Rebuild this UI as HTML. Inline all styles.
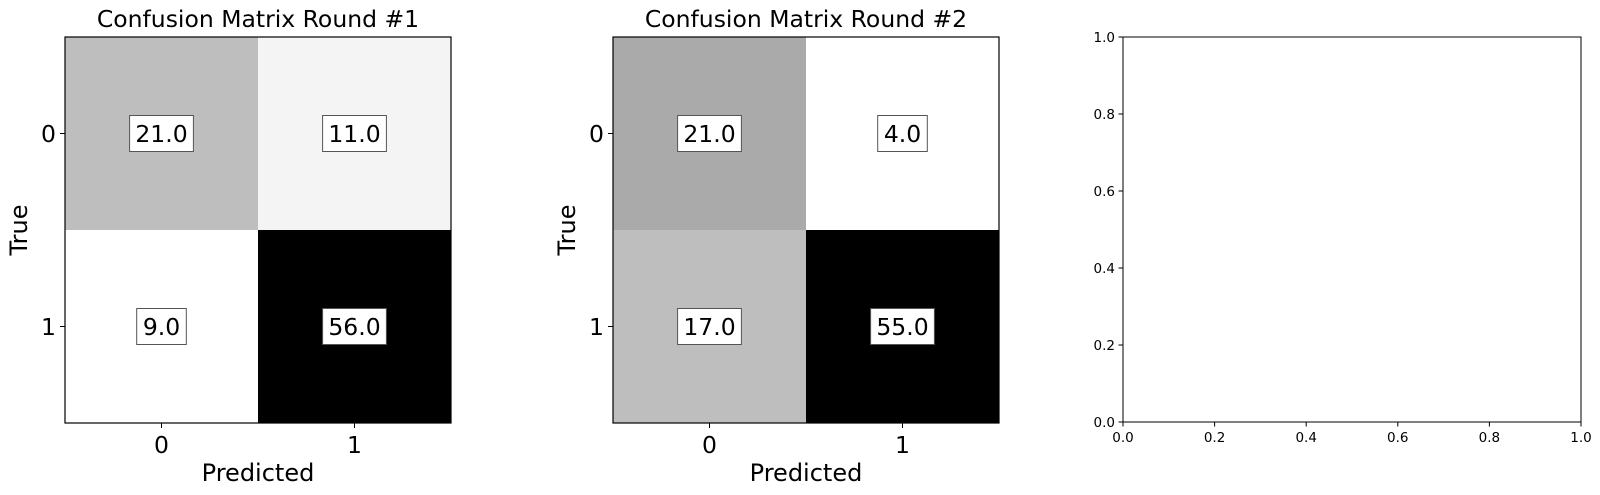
<!DOCTYPE html>
<html><head><meta charset="utf-8">
<style>
html,body{margin:0;padding:0;background:#fff;}
svg{display:block;font-family:"DejaVu Sans","Liberation Sans",sans-serif;}
</style></head>
<body>
<svg id="fig" width="1600" height="495" viewBox="0 0 1600 495" xmlns="http://www.w3.org/2000/svg"></svg>
<script>
const titles = ["Confusion Matrix Round #1", "Confusion Matrix Round #2"];
const classLabels = ["0", "1"];
const matrix1 = [[21, 11], [9, 56]];
const matrix2 = [[21, 4], [17, 55]];
const emptyTicks = ["0.0", "0.2", "0.4", "0.6", "0.8", "1.0"];

const NS = "http://www.w3.org/2000/svg";
const svg = document.getElementById("fig");
function mk(tag, attrs, parent) {
  const e = document.createElementNS(NS, tag);
  for (const k in attrs) e.setAttribute(k, attrs[k]);
  (parent || svg).appendChild(e);
  return e;
}
const top0 = 37, size = 386;
const panelsX = [65, 613];
const mats = [matrix1, matrix2];

mats.forEach((m, p) => {
  const g = mk("g", {});
  
  
  const x0 = panelsX[p];
  const n = m.length, cs = size / n;
  const flat = m.flat();
  const mn = Math.min(...flat), mx = Math.max(...flat);
  const xs = j => x0 + cs * (j + 0.5);
  const ys = i => top0 + cs * (i + 0.5);
  m.forEach((row, i) => row.forEach((v, j) => {
    const t = (v - mn) / (mx - mn);
    const c = Math.round(255 * (1 - t));
    const r = mk("rect", {x: x0 + cs * j, y: top0 + cs * i, width: cs + 0.5, height: cs + 0.5, fill: `rgb(${c},${c},${c})`}, g);
    
    
  }));
  m.forEach((row, i) => row.forEach((v, j) => {
    const label = v.toFixed(1);
    const w = label.length * 14.2 + 7;
    const b = mk("rect", {x: xs(j) - w / 2, y: ys(i) - 18, width: w, height: 36, fill: "#fff", stroke: "#555", "stroke-width": 1}, g);
    
    
    const t = mk("text", {x: xs(j), y: ys(i) + 8.5, "text-anchor": "middle", "font-size": 23.5, fill: "#000"}, g);
    t.textContent = label;
    
    
  }));
  const fr = mk("rect", {x: x0, y: top0, width: size, height: size, fill: "none", stroke: "#000", "stroke-width": 1.2}, g);
  
  
  classLabels.forEach((lab, k) => {
    mk("line", {x1: xs(k), x2: xs(k), y1: top0 + size, y2: top0 + size + 5, stroke: "#000", "stroke-width": 1}, g);
    const tx = mk("text", {x: xs(k), y: top0 + size + 30, "text-anchor": "middle", "font-size": 23.5}, g);
    tx.textContent = lab;
    
    
    mk("line", {x1: x0 - 5, x2: x0, y1: ys(k), y2: ys(k), stroke: "#000", "stroke-width": 1}, g);
    const ty = mk("text", {x: x0 - 9, y: ys(k) + 8.5, "text-anchor": "end", "font-size": 23.5}, g);
    ty.textContent = lab;
    
    
  });
  const ti = mk("text", {x: x0 + size / 2, y: 27, "text-anchor": "middle", "font-size": 23.5}, g);
  ti.textContent = titles[p];
  
  
  const xl = mk("text", {x: x0 + size / 2, y: 481, "text-anchor": "middle", "font-size": 24}, g);
  xl.textContent = "Predicted";
  
  
  const cy = top0 + size / 2;
  const yl = mk("text", {x: x0 - 38, y: cy, "text-anchor": "middle", "font-size": 24, transform: `rotate(-90 ${x0 - 38} ${cy})`}, g);
  yl.textContent = "True";
  
  
});

// empty third panel
const g3 = mk("g", {});


const ex0 = 1123, ex1 = 1581, ey0 = 37, ey1 = 422;
const f3 = mk("rect", {x: ex0, y: ey0, width: ex1 - ex0, height: ey1 - ey0, fill: "none", stroke: "#000", "stroke-width": 1}, g3);


emptyTicks.forEach((lab, k) => {
  const v = parseFloat(lab);
  const px = ex0 + v * (ex1 - ex0);
  const py = ey1 - v * (ey1 - ey0);
  mk("line", {x1: px, x2: px, y1: ey1, y2: ey1 + 4.5, stroke: "#000", "stroke-width": 1}, g3);
  const tx = mk("text", {x: px, y: ey1 + 20, "text-anchor": "middle", "font-size": 13.5}, g3);
  tx.textContent = lab;
  
  
  mk("line", {x1: ex0 - 4.5, x2: ex0, y1: py, y2: py, stroke: "#000", "stroke-width": 1}, g3);
  const ty = mk("text", {x: ex0 - 8, y: py + 5, "text-anchor": "end", "font-size": 13.5}, g3);
  ty.textContent = lab;
  
  
});
</script>
</body></html>
